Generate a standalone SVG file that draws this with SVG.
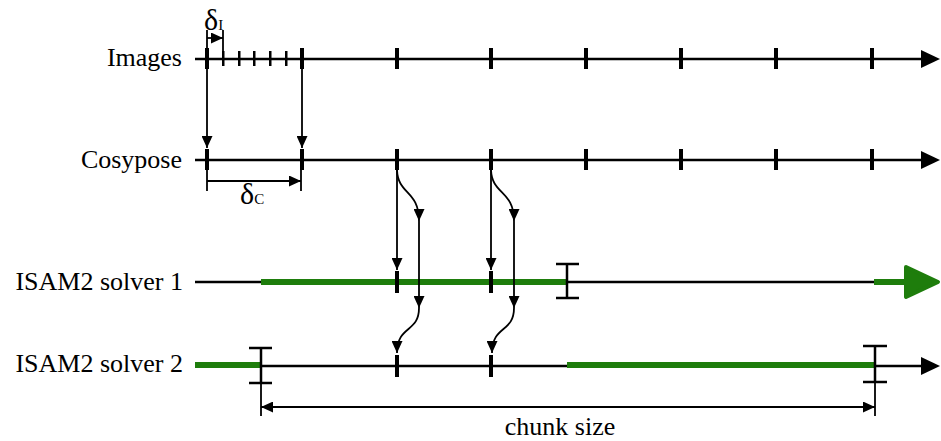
<svg xmlns="http://www.w3.org/2000/svg" width="941" height="441" viewBox="0 0 941 441">
<style>
.ln{stroke:#000;stroke-width:2.5;fill:none}
.thin{stroke:#000;stroke-width:1.8;fill:none}
.gr{stroke:#1e7d0c;stroke-width:6;fill:none}
.bt{fill:#000}
.lbl{font-family:"Liberation Serif","Times New Roman",serif;font-size:26px;fill:#000}
.dl{font-family:"Liberation Serif","Times New Roman",serif;font-size:30px;fill:#000}
.sub{font-size:15px}
</style>
<defs>
<marker id="ah" markerUnits="userSpaceOnUse" markerWidth="12" markerHeight="11" viewBox="0 0 12 11" refX="12" refY="5.5" orient="auto">
<path d="M0,0 L12,5.5 L0,11 z" fill="#000"/>
</marker>
<marker id="ahs" markerUnits="userSpaceOnUse" markerWidth="12" markerHeight="11" viewBox="0 0 12 11" refX="12" refY="5.5" orient="auto-start-reverse">
<path d="M0,0 L12,5.5 L0,11 z" fill="#000"/>
</marker>
</defs>
<rect width="941" height="441" fill="#fff"/>

<g id="images">
<text class="lbl" x="182" y="66" text-anchor="end">Images</text>
<line class="ln" x1="195" y1="59" x2="924" y2="59"/>
<polygon class="bt" points="921,50 940,59 921,68"/>
<g class="bt">
<rect x="205" y="48" width="4" height="21"/>
<rect x="300" y="48" width="4" height="21"/>
<rect x="395" y="48" width="4" height="21"/>
<rect x="489" y="48" width="4" height="21"/>
<rect x="584" y="48" width="4" height="21"/>
<rect x="679" y="48" width="4" height="21"/>
<rect x="774" y="48" width="4" height="21"/>
<rect x="870" y="48" width="4" height="21"/>
<rect x="222" y="51" width="2.5" height="15"/>
<rect x="238" y="51" width="2.5" height="15"/>
<rect x="253" y="51" width="2.5" height="15"/>
<rect x="269" y="51" width="2.5" height="15"/>
<rect x="285" y="51" width="2.5" height="15"/>
</g>
</g>

<g id="cosypose">
<text class="lbl" x="182" y="168" text-anchor="end">Cosypose</text>
<line class="ln" x1="195" y1="160" x2="924" y2="160"/>
<polygon class="bt" points="921,151 940,160 921,169"/>
<g class="bt">
<rect x="205" y="149" width="4" height="21"/>
<rect x="300" y="149" width="4" height="21"/>
<rect x="395" y="149" width="4" height="21"/>
<rect x="489" y="149" width="4" height="21"/>
<rect x="584" y="149" width="4" height="21"/>
<rect x="679" y="149" width="4" height="21"/>
<rect x="774" y="149" width="4" height="21"/>
<rect x="870" y="149" width="4" height="21"/>
</g>
</g>

<g id="solver1">
<text class="lbl" x="183" y="290" text-anchor="end">ISAM2 solver 1</text>
<line class="ln" x1="195" y1="282" x2="876" y2="282"/>
<line class="gr" x1="261" y1="282" x2="567" y2="282"/>
<line class="gr" x1="874" y1="282" x2="910" y2="282"/>
<polygon points="906,267 938,282 906,297" fill="#1e7d0c" stroke="#1e7d0c" stroke-width="4" stroke-linejoin="round"/>
<g class="bt">
<rect x="395" y="271" width="4" height="22"/>
<rect x="489" y="271" width="4" height="22"/>
</g>
<line class="ln" x1="567" y1="263" x2="567" y2="299"/>
<line class="ln" x1="556" y1="264" x2="579" y2="264"/>
<line class="ln" x1="556" y1="298" x2="579" y2="298"/>
</g>

<g id="solver2">
<text class="lbl" x="183" y="372" text-anchor="end">ISAM2 solver 2</text>
<line class="ln" x1="195" y1="366" x2="924" y2="366"/>
<polygon class="bt" points="921,357 940,366 921,375"/>
<line class="gr" x1="195" y1="365" x2="261" y2="365"/>
<line class="gr" x1="567" y1="365" x2="875" y2="365"/>
<g class="bt">
<rect x="395" y="355" width="4" height="22"/>
<rect x="489" y="355" width="4" height="22"/>
</g>
<line class="ln" x1="261" y1="347" x2="261" y2="384"/>
<line class="ln" x1="249" y1="348" x2="272" y2="348"/>
<line class="ln" x1="249" y1="383" x2="272" y2="383"/>
<line class="ln" x1="875" y1="345" x2="875" y2="382"/>
<line class="ln" x1="863" y1="346" x2="887" y2="346"/>
<line class="ln" x1="863" y1="382" x2="887" y2="382"/>
</g>

<g id="dimensions">
<line class="thin" x1="207" y1="30" x2="207" y2="48"/>
<line class="thin" x1="223" y1="30" x2="223" y2="51"/>
<line class="thin" x1="207" y1="38" x2="223" y2="38" marker-end="url(#ah)"/>
<text class="dl" x="204" y="30">δ<tspan class="sub">I</tspan></text>
<line class="thin" x1="207" y1="170" x2="207" y2="191"/>
<line class="thin" x1="301" y1="170" x2="301" y2="191"/>
<line class="thin" x1="207" y1="181" x2="301" y2="181" marker-end="url(#ah)"/>
<text class="dl" x="240" y="204">δ<tspan class="sub">C</tspan></text>
<line class="thin" x1="261" y1="383" x2="261" y2="416"/>
<line class="thin" x1="875" y1="382" x2="875" y2="416"/>
<line class="thin" x1="261" y1="407" x2="875" y2="407" marker-start="url(#ahs)" marker-end="url(#ah)"/>
<text class="lbl" x="560" y="435" text-anchor="middle">chunk size</text>
</g>

<g id="connectors">
<line class="thin" x1="207" y1="69" x2="207" y2="148" marker-end="url(#ah)"/>
<line class="thin" x1="302" y1="69" x2="302" y2="148" marker-end="url(#ah)"/>
<line class="thin" x1="397" y1="170" x2="397" y2="270" marker-end="url(#ah)"/>
<line class="thin" x1="491" y1="170" x2="491" y2="270" marker-end="url(#ah)"/>
<path class="thin" d="M397,170 C398,195 419,190 419,221" marker-end="url(#ah)"/>
<path class="thin" d="M491,170 C492,195 514,190 514,221" marker-end="url(#ah)"/>
<line class="thin" x1="419" y1="221" x2="419" y2="308" marker-end="url(#ah)"/>
<line class="thin" x1="514" y1="221" x2="514" y2="308" marker-end="url(#ah)"/>
<path class="thin" d="M419,308 C419,333 397,325 397,353" marker-end="url(#ah)"/>
<path class="thin" d="M514,308 C514,333 492,325 492,353" marker-end="url(#ah)"/>
</g>
</svg>
